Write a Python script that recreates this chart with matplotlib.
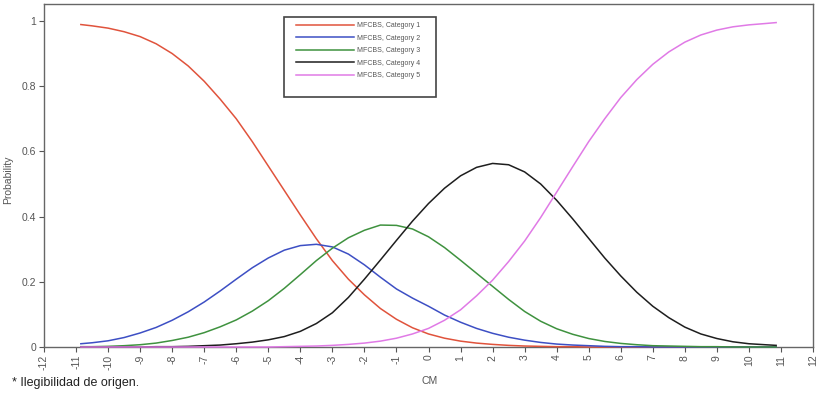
import matplotlib
matplotlib.use("Agg")
import matplotlib.pyplot as plt
from matplotlib.patches import Rectangle

# ── data (category probability curves) ───────────────────────────────────────
cm = [-10.85, -10.5, -10, -9.5, -9, -8.5, -8, -7.5, -7, -6.5, -6, -5.5, -5,
      -4.5, -4, -3.5, -3, -2.5, -2, -1.5, -1, -0.5, 0, 0.5, 1, 1.5, 2, 2.5,
      3, 3.5, 4, 4.5, 5, 5.5, 6, 6.5, 7, 7.5, 8, 8.5, 9, 9.5, 10, 10.5, 10.85]

cat1 = [0.989, 0.985, 0.978, 0.967, 0.952, 0.930, 0.900, 0.862, 0.815, 0.760,
        0.700, 0.630, 0.555, 0.480, 0.405, 0.332, 0.265, 0.208, 0.160, 0.118,
        0.085, 0.059, 0.040, 0.027, 0.018, 0.012, 0.008, 0.005, 0.003, 0.002,
        0.001, 0.001, 0, 0, 0, 0, 0, 0, 0, 0, 0, 0, 0, 0, 0]
cat2 = [0.010, 0.013, 0.019, 0.029, 0.043, 0.060, 0.082, 0.108, 0.138, 0.172,
        0.208, 0.243, 0.273, 0.297, 0.311, 0.315, 0.307, 0.285, 0.252, 0.214,
        0.178, 0.150, 0.125, 0.098, 0.076, 0.057, 0.042, 0.030, 0.021, 0.014,
        0.009, 0.006, 0.004, 0.002, 0.001, 0.001, 0, 0, 0, 0, 0, 0, 0, 0, 0]
cat3 = [0.001, 0.001, 0.002, 0.004, 0.007, 0.012, 0.020, 0.030, 0.044, 0.062,
        0.083, 0.110, 0.142, 0.180, 0.222, 0.265, 0.303, 0.335, 0.358, 0.374,
        0.373, 0.362, 0.338, 0.305, 0.266, 0.226, 0.186, 0.146, 0.109, 0.079,
        0.056, 0.039, 0.026, 0.017, 0.011, 0.007, 0.004, 0.003, 0.002, 0.001,
        0.001, 0, 0, 0, 0]
cat4 = [0, 0, 0, 0, 0, 0.001, 0.001, 0.002, 0.004, 0.006,
        0.010, 0.015, 0.022, 0.032, 0.048, 0.072, 0.105, 0.152, 0.208, 0.267,
        0.327, 0.386, 0.440, 0.487, 0.525, 0.551, 0.563, 0.559, 0.537, 0.500,
        0.450, 0.393, 0.333, 0.273, 0.218, 0.168, 0.125, 0.090, 0.061, 0.040,
        0.026, 0.016, 0.010, 0.007, 0.005]
cat5 = [0, 0, 0, 0, 0, 0, 0, 0, 0, 0, 0, 0, 0,
        0.001, 0.002, 0.003, 0.005, 0.008, 0.012, 0.018, 0.027, 0.040, 0.057,
        0.082, 0.114, 0.157, 0.205, 0.262, 0.325, 0.397, 0.475, 0.553, 0.630,
        0.700, 0.765, 0.820, 0.867, 0.905, 0.935, 0.957, 0.972, 0.982, 0.988,
        0.992, 0.995]

labels = ["MFCBS, Category 1", "MFCBS, Category 2", "MFCBS, Category 3",
          "MFCBS, Category 4", "MFCBS, Category 5"]
colors = ["#e0533c", "#3d4fc4", "#3f923f", "#1e1e1e", "#e07ae6"]
x_ticks = list(range(-12, 13))
y_ticks = [0, 0.2, 0.4, 0.6, 0.8, 1]

plt.rcParams["font.family"] = ["Liberation Sans", "DejaVu Sans"]

W, H = 823, 395
fig = plt.figure(figsize=(W / 100, H / 100), dpi=100)
ax = fig.add_axes([44 / W, 1 - 347 / H, 769 / W, 343 / H])

handles = []
for ys, lab, col in zip([cat1, cat2, cat3, cat4, cat5], labels, colors):
    (ln,) = ax.plot(cm, ys, color=col, lw=1.1, label=lab, clip_on=False, zorder=3)
    handles.append(ln)

ax.set_xlim(-12, 12)
ax.set_ylim(0, 1.052)
ax.set_xticks(x_ticks)
ax.set_xticklabels([str(t) for t in x_ticks], rotation=90)
ax.set_yticks(y_ticks)
ax.set_yticklabels(["0", "0.2", "0.4", "0.6", "0.8", "1"])

for side in ["left", "bottom", "top", "right"]:
    ax.spines[side].set_color("#666666")
    ax.spines[side].set_linewidth(1.0)
ax.tick_params(axis="both", direction="out", length=3.5, width=0.8,
               color="#555555", labelcolor="#555555", labelsize=7.5, pad=2)

ax.set_xlabel("CM", fontsize=7.5, color="#555555")
ax.set_ylabel("Probability", fontsize=7.5, color="#555555")
ax.xaxis.set_label_coords((430 - 44) / 769, -(376 - 347) / 343)
ax.yaxis.set_label_coords(-(44 - 13) / 769, (347 - 180) / 343)

# legend box (taller than its entries, as in the reference)
fig.patches.append(Rectangle((284 / W, 1 - 97 / H), 152 / W, 80 / H,
                             transform=fig.transFigure, fill=False,
                             edgecolor="#444444", lw=1.2, zorder=5))
ax.legend(handles=handles, loc="upper left",
          bbox_to_anchor=(296 / W, 1 - 22 / H), bbox_transform=fig.transFigure,
          frameon=False, fontsize=5, handlelength=8.4, handletextpad=0.4,
          labelspacing=0.8, borderpad=0, borderaxespad=0, labelcolor="#555555")

fig.text(12 / W, 1 - 383 / H, "* Ilegibilidad de origen.", fontsize=9,
         color="#222222", va="center", ha="left")

fig.savefig("out.png", dpi=100)
